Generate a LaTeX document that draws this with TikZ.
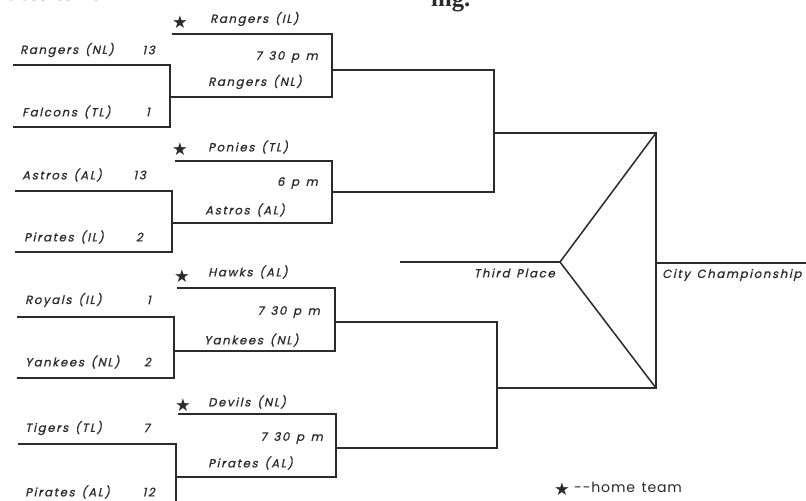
\documentclass[tikz,border=0pt]{standalone}
\usepackage{fontspec}
\usetikzlibrary{positioning}
\newfontfamily\teamfont[FakeSlant=0.22,FakeBold=0.8,LetterSpace=14,WordSpace=1.4]{Poppins}
\newfontfamily\legendfont[LetterSpace=6,WordSpace=1.4]{Poppins}
\newfontfamily\starfont{DejaVu Sans}
\newfontfamily\headfont{Liberation Serif}
\definecolor{ink}{HTML}{2B2B2B}

\begin{document}
\begin{tikzpicture}[x=0.03cm,y=-0.03cm,
            bracket/.style = {draw=ink,line width=1.3pt,line join=miter},
            team/.style = {anchor=west,inner sep=0pt,text=ink,
                font=\teamfont\fontsize{10}{11}\selectfont},
            score/.style = {team,anchor=east},
            hometeam/.style = {inner sep=0pt,text=ink,
                font=\starfont\fontsize{15}{15}\selectfont},
            headline/.style = {anchor=base west,inner sep=0pt,text=ink,
                font=\headfont\bfseries\fontsize{21}{22}\selectfont}]
            \useasboundingbox[fill=white] (0,0) rectangle (806,501);
            \clip (0,0) rectangle (806,501);
            % cut-off page text
            \node[headline] (head1) at (-4,0) {rates to 2.};
            \node[headline] (head2) at (431,6) {ing.};
            % first round
            \coordinate (g1top) at (13,65);  \coordinate (g1bot) at (13,127);
            \coordinate (g1out) at (170,97);
            \coordinate (g2top) at (15,191); \coordinate (g2bot) at (15,252);
            \coordinate (g2out) at (172,223);
            \coordinate (g3top) at (17,317); \coordinate (g3bot) at (17,378);
            \coordinate (g3out) at (174,351);
            \coordinate (g4top) at (18,444); \coordinate (g4bot) at (18,508);
            \coordinate (g4out) at (176,477);
            \draw[bracket] (g1top) -| (g1out) |- (g1bot);
            \draw[bracket] (g2top) -| (g2out) |- (g2bot);
            \draw[bracket] (g3top) -| (g3out) |- (g3bot);
            \draw[bracket] (g4top) -| (g4out) |- (g4bot);
            \node[team] (rangersNL) at (20,50) {Rangers (NL)};
            \node[score] (score1) at (155,50) {13};
            \node[team] (falcons) at (22,112) {Falcons (TL)};
            \node[score] (score2) at (150,112) {1};
            \node[team] (astros) at (22,175) {Astros (AL)};
            \node[score] (score3) at (146,175) {13};
            \node[team] (piratesIL) at (24,237) {Pirates (IL)};
            \node[score] (score4) at (143,237) {2};
            \node[team] (royals) at (25,300) {Royals (IL)};
            \node[score] (score5) at (151,300) {1};
            \node[team] (yankees) at (25,362) {Yankees (NL)};
            \node[score] (score6) at (151,362) {2};
            \node[team] (tigers) at (25,428) {Tigers (TL)};
            \node[score] (score7) at (150,428) {7};
            \node[team] (piratesAL) at (25,492) {Pirates (AL)};
            \node[score] (score8) at (155,492) {12};
            % second round
            \coordinate (s1top) at (172,34);  \coordinate (s1out) at (332,70);
            \coordinate (s2top) at (175,161); \coordinate (s2out) at (332,192);
            \coordinate (s3top) at (177,288); \coordinate (s3out) at (335,322);
            \coordinate (s4top) at (178,414); \coordinate (s4out) at (336,448);
            \draw[bracket] (s1top) -| (s1out) |- (g1out);
            \draw[bracket] (s2top) -| (s2out) |- (g2out);
            \draw[bracket] (s3top) -| (s3out) |- (g3out);
            \draw[bracket] (s4top) -| (s4out) |- (g4out);
            \node[hometeam] (star1) at (180,22) {★};
            \node[team] (rangersIL) at (210,19) {Rangers (IL)};
            \node[score] (time1) at (318,57) {7 30 p m};
            \node[team] (win1) at (208,82) {Rangers (NL)};
            \node[hometeam] (star2) at (180,149) {★};
            \node[team] (ponies) at (208,147) {Ponies (TL)};
            \node[score] (time2) at (318,183) {6 p m};
            \node[team] (win2) at (205,210) {Astros (AL)};
            \node[hometeam] (star3) at (182,276) {★};
            \node[team] (hawks) at (208,272) {Hawks (AL)};
            \node[score] (time3) at (320,312) {7 30 p m};
            \node[team] (win3) at (204,340) {Yankees (NL)};
            \node[hometeam] (star4) at (183,405) {★};
            \node[team] (devils) at (208,402) {Devils (NL)};
            \node[score] (time4) at (323,438) {7 30 p m};
            \node[team] (win4) at (208,463) {Pirates (AL)};
            % semifinals and finals
            \coordinate (f1) at (494,133); \coordinate (f2) at (497,388);
            \coordinate (fin1) at (656,133); \coordinate (fin2) at (656,388);
            \coordinate (apex) at (560,262);
            \coordinate (third) at (400,262); \coordinate (champ) at (810,263);
            \draw[bracket] (s1out) -| (f1) |- (s2out);
            \draw[bracket] (s3out) -| (f2) |- (s4out);
            \draw[bracket] (f1) -- (fin1) -- (fin2) -- (f2);
            \draw[bracket] (fin1) -- (apex) -- (fin2);
            \draw[bracket] (third) -- (apex);
            \draw[bracket] (fin1 |- champ) -- (champ);
            \node[score] (thirdplace) at (555,273) {Third Place};
            \node[team] (city) at (662,275) {City Championship};
            % legend
            \node[hometeam] (legstar) at (562,489) {★};
            \node[anchor=west,inner sep=0pt,text=ink,
                font=\legendfont\fontsize{12}{13}\selectfont]
                (legend) at (574,487) {--home team};
        \end{tikzpicture}
\end{document}
